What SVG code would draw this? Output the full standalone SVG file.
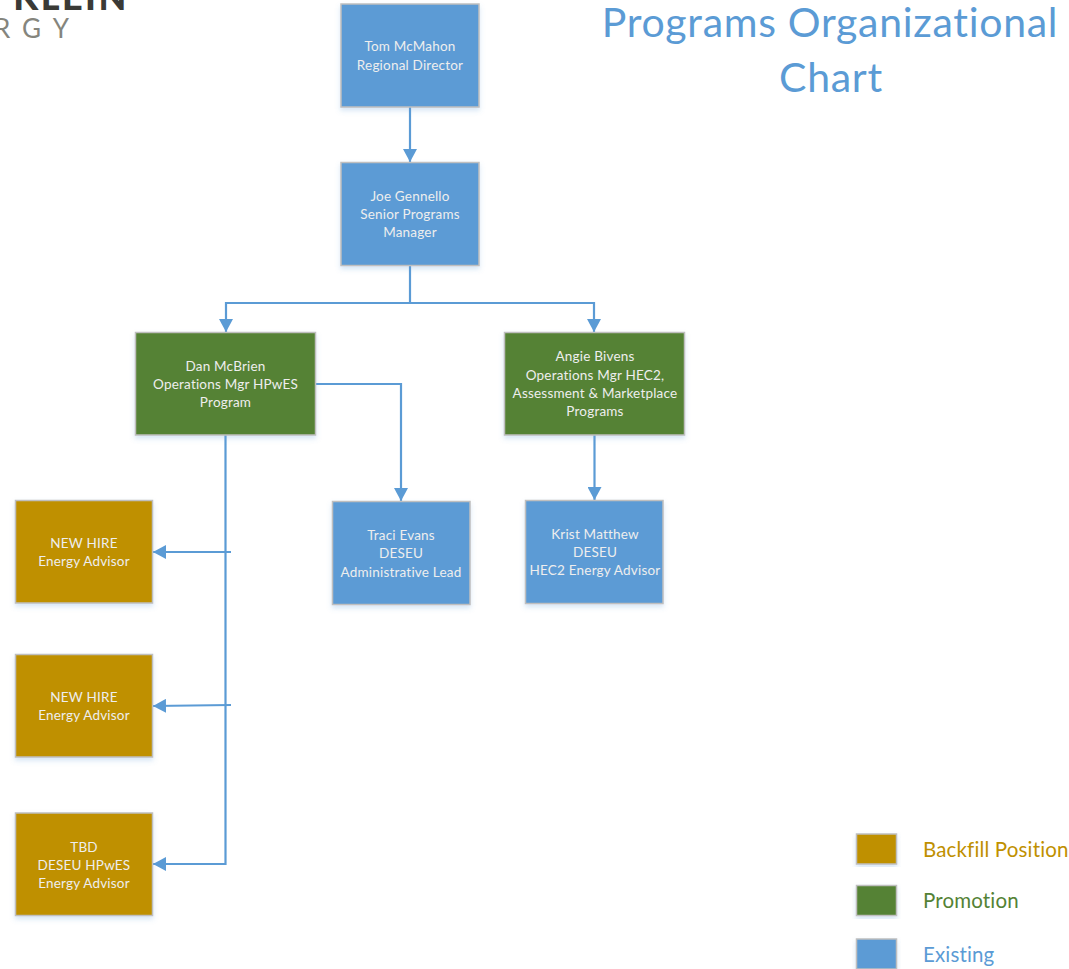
<svg xmlns="http://www.w3.org/2000/svg" width="1069" height="969" viewBox="0 0 1069 969">
<style>
text{font-family:"Lato","Open Sans","Liberation Sans",sans-serif;text-anchor:middle;font-variant-ligatures:none}
.n rect{stroke:#bfbfbf;stroke-width:1.5;filter:url(#s)}
.n text{fill:#eeeeee;font-size:13.500px;letter-spacing:.2px}
.b rect{fill:#bf9000}.g rect{fill:#548235}.e rect{fill:#5b9bd5}
.l{font-size:20.500px;text-anchor:start;letter-spacing:.15px}
.t{font-size:41px;fill:#5b9bd5;letter-spacing:.7px}
#connectors path{fill:none;stroke:#5b9bd5;stroke-width:2.200}
#connectors path.a{marker-end:url(#ah)}
</style>
<defs>
<marker id="ah" markerUnits="userSpaceOnUse" markerWidth="14" markerHeight="14" refX="13" refY="7" orient="auto"><path d="M0 0L13 7L0 14Z" fill="#5b9bd5"/></marker>
<filter id="s" x="-10%" y="-10%" width="120%" height="120%"><feDropShadow dx="0" dy="3" stdDeviation="2.500" flood-color="#5b9bd5" flood-opacity=".25"/></filter>
</defs>
<rect width="1069" height="969" fill="#fff"/>
<g id="logo">
<text x="71" y="10" style="font-size:36px;font-weight:900;fill:#3a3a36;letter-spacing:2.500px">KLEIN</text>
<text x="-6" y="38" style="font-size:26px;fill:#85857d;letter-spacing:12px;text-anchor:start">RGY</text>
</g>
<g id="title"><text class="t" x="830" y="37">Programs Organizational</text><text class="t" x="831" y="92">Chart</text></g>
<g id="connectors">
<path class="a" d="M410 107V162"/>
<path d="M410 265V303"/>
<path class="a" d="M410 303H226V332"/>
<path class="a" d="M410 303H594V332"/>
<path class="a" d="M316 384H401V501"/>
<path class="a" d="M594.500 435V500"/>
<path class="a" d="M225.500 435V864H153"/>
<path class="a" d="M231 552H153"/>
<path class="a" d="M231 705L153 706"/>
</g>
<g id="tom" class="n e"><rect x="341" y="4" width="138" height="103"/><text x="410" y="51">Tom McMahon</text><text x="410" y="70">Regional Director</text></g>
<g id="joe" class="n e"><rect x="341" y="162.500" width="138" height="103"/><text x="410" y="201">Joe Gennello</text><text x="410" y="219">Senior Programs</text><text x="410" y="237">Manager</text></g>
<g id="dan" class="n g"><rect x="135.500" y="332.500" width="180" height="102.500"/><text x="225.500" y="371">Dan McBrien</text><text x="225.500" y="389">Operations Mgr HPwES</text><text x="225.500" y="407">Program</text></g>
<g id="angie" class="n g"><rect x="504.500" y="332.500" width="180" height="102.500"/><text x="595" y="361">Angie Bivens</text><text x="595" y="380">Operations Mgr HEC2,</text><text x="595" y="398">Assessment &amp; Marketplace</text><text x="595" y="416">Programs</text></g>
<g id="traci" class="n e"><rect x="332.500" y="501.500" width="137.500" height="103"/><text x="401" y="540">Traci Evans</text><text x="401" y="558">DESEU</text><text x="401" y="577">Administrative Lead</text></g>
<g id="krist" class="n e"><rect x="525.500" y="500.500" width="137.500" height="103"/><text x="595" y="539">Krist Matthew</text><text x="595" y="557">DESEU</text><text x="595" y="575">HEC2 Energy Advisor</text></g>
<g id="hire1" class="n b"><rect x="15.500" y="500.500" width="137" height="102.500"/><text x="84" y="548">NEW HIRE</text><text x="84" y="566">Energy Advisor</text></g>
<g id="hire2" class="n b"><rect x="15.500" y="654.500" width="137" height="102.500"/><text x="84" y="702">NEW HIRE</text><text x="84" y="720">Energy Advisor</text></g>
<g id="tbd" class="n b"><rect x="15.500" y="813" width="137" height="102.500"/><text x="84" y="852">TBD</text><text x="84" y="870">DESEU HPwES</text><text x="84" y="888">Energy Advisor</text></g>
<g id="legend-backfill" class="n b"><rect x="856.500" y="834" width="40" height="30"/></g>
<text class="l" x="923" y="857" fill="#bf9000">Backfill Position</text>
<g id="legend-promotion" class="n g"><rect x="856.500" y="885.500" width="40" height="30"/></g>
<text class="l" x="923" y="908" fill="#548235">Promotion</text>
<g id="legend-existing" class="n e"><rect x="856.500" y="939" width="40" height="30"/></g>
<text class="l" x="923" y="962" fill="#5b9bd5">Existing</text>
</svg>
